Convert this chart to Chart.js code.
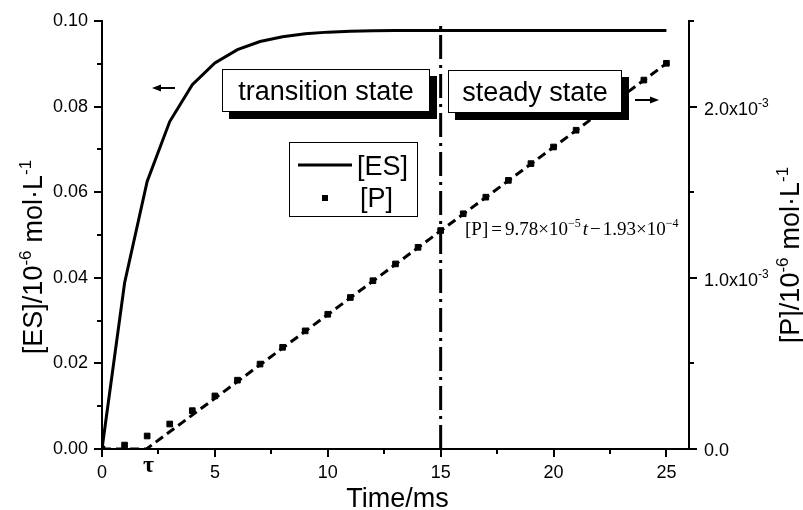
<!DOCTYPE html>
<html>
<head>
<meta charset="utf-8">
<script src="https://cdn.jsdelivr.net/npm/chart.js@4.4.1/dist/chart.umd.min.js"></script>
<style>
  html, body { margin: 0; padding: 0; background: #fff; }
  canvas { display: block; }
</style>
</head>
<body>
<canvas id="chart" width="803" height="510"></canvas>
<script>
// time axis (ms)
const time = [0, 1, 2, 3, 4, 5, 6, 7, 8, 9, 10, 11, 12, 13, 14, 15, 16, 17, 18, 19, 20, 21, 22, 23, 24, 25];
// [ES] / 1e-6 mol/L  (left axis)
const esConc = [0, 0.0388, 0.0625, 0.0765, 0.0851, 0.0902, 0.0933, 0.0952, 0.0963, 0.0970, 0.0974,
  0.0976, 0.0977, 0.0978, 0.0978, 0.0978, 0.0978, 0.0978, 0.0978, 0.0978, 0.0978, 0.0978, 0.0978,
  0.0978, 0.0978, 0.0978];
// [P] / 1e-6 mol/L  (right axis)
const pConc = [0, 0.023e-3, 0.076e-3, 0.146e-3, 0.224e-3, 0.310e-3, 0.402e-3, 0.496e-3, 0.594e-3,
  0.690e-3, 0.787e-3, 0.885e-3, 0.983e-3, 1.081e-3, 1.178e-3, 1.276e-3, 1.374e-3, 1.471e-3, 1.569e-3,
  1.667e-3, 1.764e-3, 1.862e-3, 1.960e-3, 2.058e-3, 2.155e-3, 2.253e-3];
// linear fit of [P] in steady state, crosses zero at tau
const fitT = [0, 1.97, 25];
const fitP = [0, 0, 2.252e-3];
const tauT = 1.97;
const steadyT = 15;
const xTicks = [0, 5, 10, 15, 20, 25];
const leftTicks = [0, 0.02, 0.04, 0.06, 0.08, 0.10];
const rightTicks = [0, 1.0e-3, 2.0e-3];

const SANS = '"Liberation Sans", Arial, sans-serif';
const SERIF = '"Liberation Serif", "Times New Roman", serif';

// draw a run of text pieces, some raised as superscripts, starting at x (left aligned)
function richWidth(ctx, parts) {
  let w = 0;
  parts.forEach(p => { ctx.font = p.font; w += ctx.measureText(p.t).width + (p.gap || 0); });
  return w;
}
function drawRich(ctx, parts, x, y) {
  parts.forEach(p => {
    ctx.font = p.font;
    ctx.fillText(p.t, x, y - (p.rise || 0));
    x += ctx.measureText(p.t).width + (p.gap || 0);
  });
}

const decor = {
  id: 'decor',
  afterDatasetsDraw(chart) {
    const ctx = chart.ctx;
    const xs = chart.scales.x, ys = chart.scales.y, ys2 = chart.scales.y2;
    const area = chart.chartArea;
    ctx.save();
    ctx.strokeStyle = '#000';
    ctx.fillStyle = '#000';
    ctx.lineWidth = 2;

    // tick marks
    ctx.beginPath();
    for (let v = 0; v <= 25.001; v += 2.5) {
      const px = Math.round(xs.getPixelForValue(v));
      const len = Math.abs(v % 5) < 0.01 ? 8 : 5;
      ctx.moveTo(px, area.bottom); ctx.lineTo(px, area.bottom + len);
    }
    for (let i = 0; i <= 10; i++) {
      const py = Math.round(ys.getPixelForValue(i * 0.01));
      const len = i % 2 === 0 ? 8 : 5;
      ctx.moveTo(area.left, py); ctx.lineTo(area.left - len, py);
    }
    for (let i = 0; i <= 5; i++) {
      const py = Math.round(ys2.getPixelForValue(i * 0.5e-3));
      const len = i % 2 === 0 ? 8 : 5;
      ctx.moveTo(area.right, py); ctx.lineTo(area.right + len, py);
    }
    ctx.stroke();

    // right tick labels
    ctx.textBaseline = 'alphabetic';
    ctx.textAlign = 'left';
    rightTicks.forEach(v => {
      const py = ys2.getPixelForValue(v);
      if (v === 0) {
        ctx.font = '18px ' + SANS;
        ctx.fillText('0.0', area.right + 15, py + 7);
      } else {
        drawRich(ctx, [
          { t: (v / 1e-3).toFixed(1) + 'x10', font: '18px ' + SANS },
          { t: '-3', font: '12px ' + SANS, rise: 8 }
        ], area.right + 15, py + 8);
      }
    });

    // axis titles
    const big = '27px ' + SANS, sup = '17px ' + SANS;
    ctx.font = big;
    ctx.textAlign = 'center';
    ctx.fillText('Time/ms', (area.left + area.right) / 2 + 2, 507);
    ctx.textAlign = 'left';
    const esTitle = [
      { t: '[ES]/10', font: big }, { t: '-6', font: sup, rise: 11, gap: 8 },
      { t: 'mol\u00b7L', font: big }, { t: '-1', font: sup, rise: 11 }
    ];
    ctx.save();
    ctx.translate(42, 257);
    ctx.rotate(-Math.PI / 2);
    drawRich(ctx, esTitle, -richWidth(ctx, esTitle) / 2, 0);
    ctx.restore();
    const pTitle = [
      { t: '[P]/10', font: big }, { t: '-6', font: sup, rise: 11, gap: 8 },
      { t: 'mol\u00b7L', font: big }, { t: '-1', font: sup, rise: 11 }
    ];
    ctx.save();
    ctx.translate(799, 255);
    ctx.rotate(-Math.PI / 2);
    drawRich(ctx, pTitle, -richWidth(ctx, pTitle) / 2, 0);
    ctx.restore();

    // state boxes with drop shadow
    function stateBox(x, y, w, h, text) {
      ctx.fillStyle = '#000';
      ctx.fillRect(x + 7, y + 7, w, h);
      ctx.fillStyle = '#fff';
      ctx.fillRect(x, y, w, h);
      ctx.lineWidth = 1;
      ctx.strokeStyle = '#000';
      ctx.strokeRect(x + 0.5, y + 0.5, w - 1, h - 1);
      ctx.fillStyle = '#000';
      ctx.font = big;
      ctx.textAlign = 'center';
      ctx.fillText(text, x + w / 2, y + 31);
    }
    stateBox(222, 69, 208, 43, 'transition state');
    stateBox(448, 70, 174, 43, 'steady state');

    // legend
    ctx.fillStyle = '#fff';
    ctx.fillRect(289, 142, 129, 75);
    ctx.lineWidth = 1;
    ctx.strokeRect(289.5, 142.5, 128, 74);
    ctx.fillStyle = '#000';
    ctx.lineWidth = 3;
    ctx.beginPath();
    ctx.moveTo(298, 165); ctx.lineTo(352, 165);
    ctx.stroke();
    ctx.fillRect(322, 195, 6, 6);
    ctx.font = big;
    ctx.textAlign = 'left';
    ctx.fillText('[ES]', 357, 175);
    ctx.fillText('[P]', 360, 207);

    // arrows
    function arrow(x1, x2, y) {
      const dir = Math.sign(x2 - x1);
      ctx.lineWidth = 2;
      ctx.beginPath();
      ctx.moveTo(x1, y); ctx.lineTo(x2 - dir * 6, y);
      ctx.stroke();
      ctx.beginPath();
      ctx.moveTo(x2, y); ctx.lineTo(x2 - dir * 9, y - 3.5); ctx.lineTo(x2 - dir * 9, y + 3.5);
      ctx.closePath();
      ctx.fill();
    }
    arrow(175, 152, 88);
    arrow(635, 659, 100);

    // fit equation
    const rm = '19px ' + SERIF, it = 'italic 19px ' + SERIF, sm = '12px ' + SERIF;
    ctx.textAlign = 'left';
    drawRich(ctx, [
      { t: '[P]', font: rm, gap: 3 }, { t: '=', font: rm, gap: 3 },
      { t: '9.78\u00d710', font: rm }, { t: '\u22125', font: sm, rise: 8, gap: 2 },
      { t: 't', font: it, gap: 2 }, { t: '\u2212', font: rm, gap: 2 },
      { t: '1.93\u00d710', font: rm }, { t: '\u22124', font: sm, rise: 8 }
    ], 465, 235);

    // tau label
    ctx.font = 'bold 24px ' + SERIF;
    ctx.textAlign = 'center';
    ctx.fillText('\u03c4', xs.getPixelForValue(tauT) + 2, 472);
    ctx.restore();
  }
};

new Chart(document.getElementById('chart'), {
  type: 'line',
  data: {
    datasets: [
      {
        label: '[ES]',
        data: time.map((t, i) => ({ x: t, y: esConc[i] })),
        yAxisID: 'y',
        borderColor: '#000',
        borderWidth: 3,
        pointRadius: 0,
        tension: 0
      },
      {
        label: 'fit',
        data: fitT.map((t, i) => ({ x: t, y: fitP[i] })),
        yAxisID: 'y2',
        borderColor: '#000',
        borderWidth: 3,
        borderDash: [9, 5],
        pointRadius: 0
      },
      {
        label: '[P]',
        data: time.map((t, i) => ({ x: t, y: pConc[i] })),
        yAxisID: 'y2',
        showLine: false,
        pointStyle: 'rect',
        pointRadius: 4,
        pointBorderWidth: 1,
        borderColor: '#000',
        backgroundColor: '#000'
      },
      {
        label: 'steady',
        data: [{ x: steadyT, y: 0 }, { x: steadyT, y: 0.10 }],
        yAxisID: 'y',
        borderColor: '#000',
        borderWidth: 3,
        borderDash: [24, 6, 3, 6],
        pointRadius: 0
      }
    ]
  },
  options: {
    responsive: false,
    animation: false,
    layout: { padding: { top: 21, right: 0, bottom: 0, left: 0 } },
    plugins: { legend: { display: false }, tooltip: { enabled: false } },
    scales: {
      x: {
        type: 'linear',
        min: 0,
        max: 26,
        grid: { display: false, drawTicks: false },
        border: { display: true, color: '#000', width: 2 },
        afterFit(s) { s.height = 61; },
        afterBuildTicks(s) { s.ticks = xTicks.map(v => ({ value: v })); },
        ticks: {
          padding: 13,
          color: '#000',
          font: { family: SANS, size: 18 },
          maxRotation: 0,
          autoSkip: false,
          callback: v => String(v)
        }
      },
      y: {
        position: 'left',
        min: 0,
        max: 0.10,
        grid: { display: false, drawTicks: false },
        border: { display: true, color: '#000', width: 2 },
        afterFit(s) { s.width = 102; },
        afterBuildTicks(s) { s.ticks = leftTicks.map(v => ({ value: v })); },
        ticks: {
          padding: 14,
          color: '#000',
          font: { family: SANS, size: 18, lineHeight: 0.6 },
          callback: v => v.toFixed(2)
        }
      },
      y2: {
        position: 'right',
        min: 0,
        max: 2.5e-3,
        grid: { display: false, drawTicks: false },
        border: { display: true, color: '#000', width: 2 },
        afterFit(s) { s.width = 114; },
        ticks: { display: false }
      }
    }
  },
  plugins: [decor]
});
</script>
</body>
</html>
